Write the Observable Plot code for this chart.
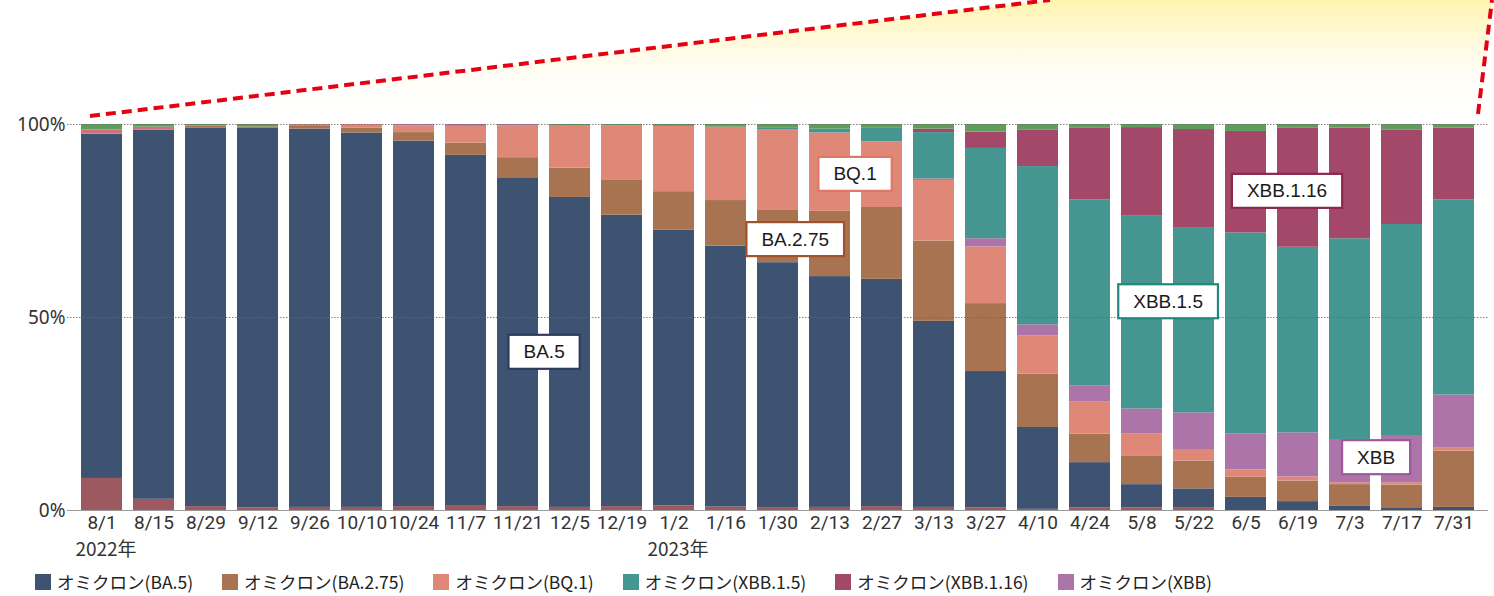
<!DOCTYPE html>
<html>
<head>
<meta charset="utf-8">
<script src="https://cdn.jsdelivr.net/npm/d3@7"></script>
<script src="https://cdn.jsdelivr.net/npm/@observablehq/plot@0.6"></script>
<style>
  body { margin: 0; background: #fff; }
  #wrap { position: relative; width: 1494px; height: 596px; overflow: hidden; background: #fff; }
  #deco { position: absolute; left: 0; top: 0; pointer-events: none; }
  #legend { position: absolute; left: 35px; top: 569px; display: flex; align-items: center;
            font-family: "Noto Sans CJK JP", "Noto Sans", sans-serif; font-size: 17.5px; color: #222; white-space: nowrap; }
  #legend .item { display: inline-flex; align-items: center; margin-right: 29px; }
  #legend .sw { width: 16px; height: 16px; margin-right: 6px; display: inline-block; }
</style>
</head>
<body>
<div id="wrap">
  <div id="chart"></div>
  <svg id="deco" width="1494" height="130">
    <defs>
      <linearGradient id="yg" x1="0" y1="0" x2="0" y2="1">
        <stop offset="0" stop-color="#fff4ad"/>
        <stop offset="1" stop-color="#ffffff" stop-opacity="0"/>
      </linearGradient>
    </defs>
    <polygon points="1050,0 1492,0 1478,114 90,116" fill="url(#yg)"/>
    <line x1="90" y1="116" x2="1050" y2="0" stroke="#e60012" stroke-width="4" stroke-dasharray="10,6"/>
    <line x1="1478" y1="114" x2="1492" y2="0" stroke="#e60012" stroke-width="4" stroke-dasharray="10,6"/>
  </svg>
  <div id="legend"></div>
</div>
<script>
// ---- data ----
const dates = ["8/1","8/15","8/29","9/12","9/26","10/10","10/24","11/7","11/21","12/5","12/19","1/2","1/16","1/30","2/13","2/27","3/13","3/27","4/10","4/24","5/8","5/22","6/5","6/19","7/3","7/17","7/31"];

// series, stacked from bottom to top (percent of detected samples)
const otherLow  = [8.3,2.9,1.0,0.7,0.8,0.8,1.0,1.1,1.0,0.8,1.0,1.2,0.9,0.6,0.8,1.0,0.8,0.7,0.3,0.7,0.7,0.6,0,0,0,0,0];
const ba5       = [89.2,95.6,98.0,98.3,98.0,97.0,94.7,90.9,85.2,80.3,75.5,71.4,67.6,63.6,59.8,58.9,48.2,35.3,21.2,11.7,6.0,5.0,3.4,2.3,1.2,0.7,0.8];
const ba275     = [0,0,0.5,0.4,0.9,1.3,2.2,3.2,5.2,7.6,9.0,10.0,11.8,13.7,16.9,18.6,20.8,17.6,13.8,7.4,7.3,7.2,5.2,5.3,5.5,5.9,14.6];
const bq1       = [0,0,0,0,0.3,0.9,1.7,4.3,8.3,10.8,14.2,16.9,19.0,20.8,20.3,17.0,15.7,14.7,9.9,8.4,5.8,2.8,1.9,1.1,0.5,0.6,0.9];
const xbb       = [0,0,0,0,0,0,0.4,0.5,0.3,0.2,0,0,0,0,0,0,0.4,2.1,2.9,4.0,6.5,9.7,9.3,11.4,11.2,12.0,13.6];
const xbb15     = [0,0,0,0,0,0,0,0,0,0,0,0,0,0.3,1.0,3.5,12.0,23.4,41.0,48.3,50.1,48.0,52.1,48.1,52.0,54.9,50.6];
const xbb116    = [0,0,0,0,0,0,0,0,0,0,0,0,0,0,0,0,0.9,4.2,9.5,18.5,22.8,25.4,26.3,30.8,28.7,24.5,18.6];
const otherPink = [1.1,0.8,0.2,0,0,0,0,0,0,0,0,0,0,0,0,0,0,0,0,0,0,0,0,0,0,0,0];
const otherTop  = [1.4,0.7,0.3,0.6,0,0,0,0,0,0.3,0.3,0.5,0.7,1.0,1.2,1.0,1.2,2.0,1.4,1.0,0.8,1.3,1.8,1.0,0.9,1.4,0.9];

const seriesNames  = ["その他(BA.2)","オミクロン(BA.5)","オミクロン(BA.2.75)","オミクロン(BQ.1)","オミクロン(XBB)","オミクロン(XBB.1.5)","オミクロン(XBB.1.16)","その他(BA.4)","その他"];
const seriesValues = [otherLow, ba5, ba275, bq1, xbb, xbb15, xbb116, otherPink, otherTop];
const seriesColors = ["#9c5960","#3e5372","#a87350","#e08878","#ac74a8","#459690","#a34869","#d0707a","#5e9e5a"];

const legendNames = ["オミクロン(BA.5)","オミクロン(BA.2.75)","オミクロン(BQ.1)","オミクロン(XBB.1.5)","オミクロン(XBB.1.16)","オミクロン(XBB)"];

const yTicks = [0, 50, 100];
const years = [{date: "8/1", text: "2022年"}, {date: "1/2", text: "2023年"}];

// callout labels: anchored at a week and a share (%)
const labelText  = ["BA.5","BA.2.75","BQ.1","XBB.1.5","XBB.1.16","XBB"];
const labelDate  = ["11/21","1/30","2/13","5/8","6/19","7/3"];
const labelValue = [41.0, 70.2, 87.1, 54.1, 82.7, 13.7];

// ---- styling ----
const labelShift  = [0.5, 0.33, 0.48, 0.5, -0.21, 0.5]; // fraction of a band step
const labelBorder = ["#2c3e5c","#a0522d","#e07766","#23877e","#8c2550","#9b5a9b"];

const W = 1494, H = 560, ML = 67, MR = 6, PAD = 0.22;
const step = (W - ML - MR) / (dates.length - PAD + 2 * PAD);

const table = [];
seriesNames.forEach((s, i) => dates.forEach((d, j) => table.push({date: d, series: s, value: seriesValues[i][j]})));

const labelMarks = labelText.map((t, i) =>
  Plot.text([{date: labelDate[i], value: labelValue[i], text: t}], {
    x: "date", y: "value", text: "text", dx: labelShift[i] * step,
    fontSize: 19, fontFamily: "Liberation Sans, Arial, sans-serif", fill: "#1a1a1a"
  })
);

const chart = Plot.plot({
  width: W, height: H,
  marginTop: 124, marginBottom: 50, marginLeft: ML, marginRight: MR,
  style: {background: "transparent", color: "#333"},
  x: {domain: dates, padding: PAD, label: null},
  y: {domain: [0, 100], label: null},
  color: {domain: seriesNames, range: seriesColors},
  marks: [
    Plot.barY(table, {x: "date", y: "value", fill: "series"}),
    Plot.ruleY([50, 100], {stroke: "#666", strokeWidth: 1, strokeDasharray: "1.5,1.5", strokeOpacity: 0.8}),
    Plot.ruleY([0], {stroke: "#999", strokeWidth: 1.2}),
    Plot.axisY({ticks: yTicks, tickFormat: d => d + "%", tickSize: 0, tickPadding: 2, fontSize: 19,
                fontFamily: "Noto Sans, sans-serif", label: null}),
    Plot.axisX({tickSize: 0, tickPadding: 5, fontSize: 19, fontFamily: "Roboto, sans-serif", label: null}),
    Plot.text(years, {x: "date", y: () => 0, text: "text", dy: 39, dx: 4, fontSize: 19,
                      fontFamily: "Noto Sans CJK JP, sans-serif", fill: "#333"}),
    ...labelMarks
  ]
});
document.getElementById("chart").appendChild(chart);

// white boxes with coloured borders behind the callout labels
const allText = Array.from(chart.querySelectorAll("text"));
labelText.forEach((lbl, i) => {
  const t = allText.find(el => el.textContent === lbl);
  if (!t) return;
  const bb = t.getBBox();
  const padX = 15, hgt = 34;
  const cy = bb.y + bb.height / 2;
  const r = document.createElementNS("http://www.w3.org/2000/svg", "rect");
  r.setAttribute("x", bb.x - padX);
  r.setAttribute("y", cy - hgt / 2);
  r.setAttribute("width", bb.width + 2 * padX);
  r.setAttribute("height", hgt);
  r.setAttribute("fill", "#fff");
  r.setAttribute("stroke", labelBorder[i]);
  r.setAttribute("stroke-width", 2.2);
  const tr = t.getAttribute("transform");
  if (tr) r.setAttribute("transform", tr);
  t.parentNode.insertBefore(r, t);
});

// legend
const leg = d3.select("#legend");
legendNames.forEach(n => {
  const it = leg.append("span").attr("class", "item");
  it.append("span").attr("class", "sw").style("background", seriesColors[seriesNames.indexOf(n)]);
  it.append("span").text(n);
});
</script>
</body>
</html>
